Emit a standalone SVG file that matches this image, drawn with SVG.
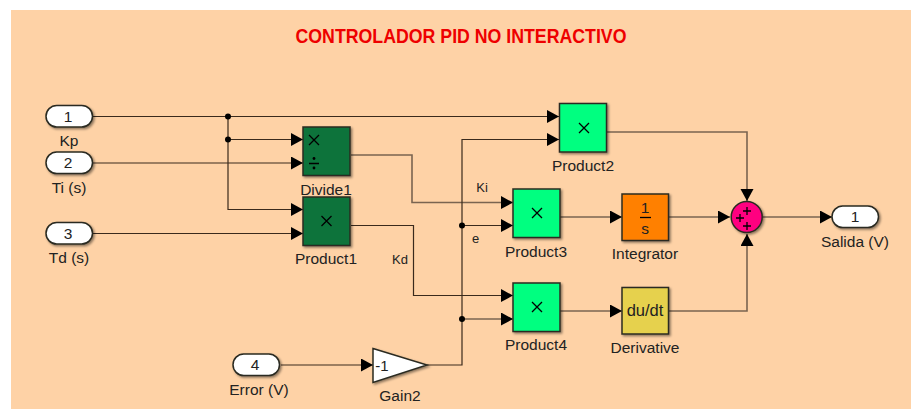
<svg xmlns="http://www.w3.org/2000/svg" width="911" height="409" viewBox="0 0 911 409">
<defs>
<marker id="arr" markerUnits="userSpaceOnUse" markerWidth="13" markerHeight="14" refX="12" refY="6.500" orient="auto"><path d="M0,0L12,6.500L0,13Z" fill="#000"/></marker>
<filter id="sh" x="-20%" y="-20%" width="150%" height="150%"><feDropShadow dx="1.5" dy="1.5" stdDeviation="1" flood-color="#000" flood-opacity=".45"/></filter>
</defs>
<style>
text{font-family:"Liberation Sans",Arial,sans-serif;font-size:15.500px;fill:#222;text-anchor:middle}
.w{fill:none;stroke:#3a2a1c;stroke-width:1.2}
.l{fill:none;stroke:#7a6450;stroke-width:1.6}
.a{marker-end:url(#arr)}
.b{stroke:#2b2b20;stroke-width:1.5;filter:url(#sh)}
.port{fill:#fff}
.dk{fill:#08733a}
.lt{fill:#00ff80}
.x{fill:none;stroke:#000;stroke-width:1.3}
.s{font-size:13px}
</style>
<rect x="11" y="10" width="900" height="399" fill="#fed2a6"/>
<text x="461" y="43" style="font-size:20.500px;font-weight:bold;fill:#ee0000" textLength="331" lengthAdjust="spacingAndGlyphs">CONTROLADOR PID NO INTERACTIVO</text>
<g id="connectors">
<path class="w a" d="M93,116.500H559"/>
<path class="w a" d="M228,116.500V209.500H303"/>
<path class="w a" d="M228,139.500H303"/>
<path class="w a" d="M93,163H303"/>
<path class="w a" d="M93,233.500H303"/>
<path class="l a" d="M351,155H412V202.500H513"/>
<path class="w a" d="M351,225.500H413.500V295.500H513"/>
<path class="w a" d="M427,365H462V139.500H559"/>
<path class="w a" d="M462,225.500H513"/>
<path class="l a" d="M462,319H513"/>
<path class="w a" d="M281,365H373"/>
<path class="l a" d="M607,132H747V201"/>
<path class="l a" d="M560,217H622"/>
<path class="l a" d="M669,217H730"/>
<path class="l a" d="M763,217H832"/>
<path class="l a" d="M560,311H622"/>
<path class="l a" d="M669,311H747V234"/>
<g fill="#000"><circle cx="228" cy="116.500" r="3"/><circle cx="228" cy="139.500" r="3"/><circle cx="462" cy="225.500" r="3"/><circle cx="462" cy="319" r="3"/></g>
</g>
<g id="in1"><rect class="b port" x="46" y="105.500" width="46.500" height="21.500" rx="10.700"/><text x="68" y="121.500">1</text><text x="69" y="146">Kp</text></g>
<g id="in2"><rect class="b port" x="46" y="152" width="46.500" height="21.500" rx="10.700"/><text x="68" y="168">2</text><text x="69" y="193">Ti (s)</text></g>
<g id="in3"><rect class="b port" x="46" y="222.500" width="46.500" height="21.500" rx="10.700"/><text x="68" y="238.500">3</text><text x="69" y="263">Td (s)</text></g>
<g id="in4"><rect class="b port" x="233" y="354" width="46.500" height="21.500" rx="10.700"/><text x="255" y="370">4</text><text x="259" y="395">Error (V)</text></g>
<g id="divide1"><rect class="b dk" x="303" y="127" width="47" height="48.500"/><path class="x" d="M309,135L319,145M319,135L309,145M309,163.500H319"/><circle cx="314" cy="158.500" r="1.400"/><circle cx="314" cy="168" r="1.400"/><text x="326" y="195">Divide1</text></g>
<g id="product1"><rect class="b dk" x="303" y="197" width="47" height="48.500"/><path class="x" d="M321.500,216L331.500,226M331.500,216L321.500,226"/><text x="326" y="264">Product1</text></g>
<g id="product2"><rect class="b lt" x="559.500" y="103.500" width="47" height="48.500"/><path class="x" d="M579,123L589,133M589,123L579,133"/><text x="583" y="171">Product2</text></g>
<g id="product3"><rect class="b lt" x="513" y="189" width="47" height="48.500"/><path class="x" d="M532,208L542,218M542,208L532,218"/><text x="536" y="257">Product3</text></g>
<g id="product4"><rect class="b lt" x="513" y="283" width="47" height="48.500"/><path class="x" d="M532,302L542,312M542,302L532,312"/><text x="536" y="350">Product4</text></g>
<g id="integrator"><rect class="b" fill="#ff8000" x="622" y="194" width="46.500" height="46.500"/><text x="645" y="213">1</text><path class="x" d="M640,217.500H651"/><text x="645" y="234">s</text><text x="645" y="259">Integrator</text></g>
<g id="derivative"><rect class="b" fill="#e6d14e" x="622" y="287.500" width="46.500" height="46.500"/><text x="645" y="316" style="font-size:16.500px">du/dt</text><text x="645" y="353">Derivative</text></g>
<g id="sum"><circle class="b" fill="#ff0080" cx="746.700" cy="217" r="15.500"/><path class="x" d="M743,211H751M747,207V215M736,218H744M740,214V222M743,226H751M747,222V230"/></g>
<g id="out1"><rect class="b port" x="832" y="206" width="46.500" height="21.500" rx="10.700"/><text x="855" y="222">1</text><text x="855" y="247">Salida (V)</text></g>
<g id="gain2"><path class="b" fill="#fff" d="M373,348.500L427,365L373,382.500Z"/><text x="382" y="371" style="font-size:15px">-1</text><text x="400" y="401">Gain2</text></g>
<text class="s" x="482" y="192">Ki</text>
<text class="s" x="475.500" y="243">e</text>
<text class="s" x="400" y="264">Kd</text>
</svg>
